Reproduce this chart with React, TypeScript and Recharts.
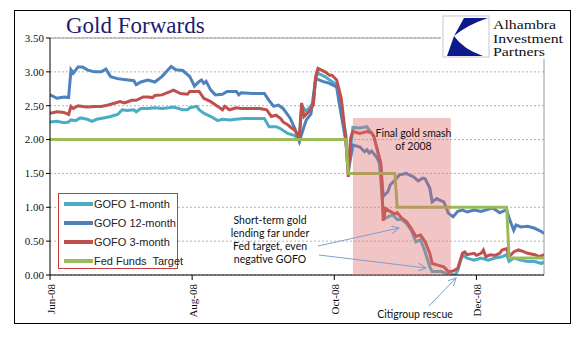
import React from 'react';
import { LineChart, Line, XAxis, YAxis, CartesianGrid, ReferenceArea, ReferenceLine } from 'recharts';

// ---------- data ----------
const xTickDates = ['06-02', '08-02', '10-02', '12-02'];
const xTickLabels = ['Jun-08', 'Aug-08', 'Oct-08', 'Dec-08'];
const yTicks = [0, 0.5, 1, 1.5, 2, 2.5, 3, 3.5];
const axisStart = '06-02';
const axisEnd = '12-31';
const smashStart = '10-10';
const smashEnd = '11-21';
const smashTop = 2.32;

const gofo1m: [string, number][] = [
  ['06-02', 2.26], ['06-05', 2.27], ['06-08', 2.25], ['06-10', 2.26], ['06-11', 2.29], ['06-13', 2.28],
  ['06-15', 2.32], ['06-18', 2.30], ['06-20', 2.27], ['06-22', 2.30], ['06-25', 2.32], ['06-28', 2.34],
  ['07-01', 2.37], ['07-03', 2.44], ['07-05', 2.43], ['07-08', 2.44], ['07-09', 2.41], ['07-11', 2.46],
  ['07-14', 2.46], ['07-17', 2.47], ['07-20', 2.46], ['07-23', 2.47], ['07-25', 2.48], ['07-29', 2.44],
  ['07-31', 2.44], ['08-01', 2.47], ['08-04', 2.49], ['08-05', 2.44], ['08-07', 2.39], ['08-10', 2.34],
  ['08-13', 2.28], ['08-15', 2.30], ['08-18', 2.29], ['08-21', 2.30], ['08-24', 2.31], ['09-02', 2.31],
  ['09-04', 2.19], ['09-07', 2.19], ['09-09', 2.16], ['09-12', 2.09], ['09-15', 2.06], ['09-17', 1.99],
  ['09-18', 2.50], ['09-20', 2.42], ['09-23', 2.54], ['09-24', 2.90], ['09-25', 2.98], ['09-28', 2.93],
  ['09-30', 2.88], ['10-03', 2.81], ['10-05', 2.46], ['10-07', 2.07], ['10-08', 1.58], ['10-10', 2.18],
  ['10-13', 2.17], ['10-16', 2.19], ['10-17', 2.14], ['10-18', 2.10], ['10-19', 2.05], ['10-21', 1.77],
  ['10-22', 1.38], ['10-23', 0.92], ['10-24', 0.84], ['10-27', 0.89], ['10-29', 0.82], ['10-31', 0.82],
  ['11-02', 0.76], ['11-04', 0.66], ['11-06', 0.49], ['11-08', 0.52], ['11-10', 0.34], ['11-12', 0.12],
  ['11-13', 0.05], ['11-17', 0.05], ['11-20', 0.01], ['11-23', 0.0], ['11-24', 0.07], ['11-26', 0.30],
  ['11-28', 0.25], ['12-01', 0.22], ['12-04', 0.25], ['12-07', 0.22], ['12-10', 0.25], ['12-13', 0.27],
  ['12-15', 0.30], ['12-16', 0.20], ['12-18', 0.25], ['12-21', 0.22], ['12-24', 0.20], ['12-27', 0.20],
  ['12-30', 0.17], ['12-31', 0.20],
];

const gofo12m: [string, number][] = [
  ['06-02', 2.66], ['06-05', 2.61], ['06-08', 2.63], ['06-10', 2.62], ['06-11', 3.03], ['06-12', 2.98],
  ['06-14', 3.07], ['06-16', 3.07], ['06-18', 3.03], ['06-21', 3.00], ['06-24', 3.00], ['06-26', 3.04],
  ['06-28', 2.93], ['07-01', 2.90], ['07-03', 2.89], ['07-08', 2.87], ['07-09', 2.81], ['07-11', 2.85],
  ['07-14', 2.88], ['07-17', 2.85], ['07-20', 2.93], ['07-24', 3.08], ['07-26', 3.03], ['07-29', 3.02],
  ['08-01', 2.93], ['08-03', 2.79], ['08-05', 2.86], ['08-06', 2.88], ['08-07', 2.83], ['08-08', 2.86],
  ['08-10', 2.73], ['08-12', 2.66], ['08-15', 2.67], ['08-17', 2.71], ['08-21', 2.71], ['08-22', 2.66],
  ['08-23', 2.69], ['08-28', 2.68], ['09-02', 2.68], ['09-04', 2.58], ['09-06', 2.49], ['09-08', 2.51],
  ['09-10', 2.46], ['09-13', 2.32], ['09-15', 2.17], ['09-17', 1.97], ['09-19', 2.19], ['09-20', 2.29],
  ['09-22', 2.38], ['09-24', 2.90], ['09-27', 2.86], ['09-30', 2.83], ['10-01', 2.81], ['10-03', 2.78],
  ['10-04', 2.56], ['10-05', 2.36], ['10-07', 1.97], ['10-08', 1.53], ['10-10', 1.92], ['10-13', 1.89],
  ['10-15', 1.82], ['10-16', 1.85], ['10-17', 1.80], ['10-18', 1.83], ['10-20', 1.75], ['10-22', 1.62],
  ['10-23', 1.16], ['10-25', 1.23], ['10-26', 1.33], ['10-28', 1.40], ['10-30', 1.48], ['11-02', 1.50],
  ['11-03', 1.48], ['11-05', 1.45], ['11-07', 1.39], ['11-09', 1.43], ['11-10', 1.42], ['11-12', 1.28],
  ['11-13', 1.08], ['11-15', 1.13], ['11-16', 1.11], ['11-18', 1.08], ['11-20', 0.91], ['11-22', 0.86],
  ['11-24', 0.94], ['11-26', 0.96], ['11-28', 0.93], ['12-01', 0.96], ['12-04', 0.94], ['12-07', 0.97],
  ['12-09', 0.99], ['12-12', 0.92], ['12-14', 0.95], ['12-15', 0.96], ['12-16', 0.84], ['12-18', 0.66],
  ['12-19', 0.74], ['12-21', 0.71], ['12-24', 0.72], ['12-27', 0.69], ['12-30', 0.64], ['12-31', 0.61],
];

const gofo3m: [string, number][] = [
  ['06-02', 2.39], ['06-05', 2.41], ['06-08', 2.40], ['06-10', 2.37], ['06-11', 2.49], ['06-12', 2.46],
  ['06-14', 2.50], ['06-16', 2.49], ['06-18', 2.48], ['06-21', 2.49], ['06-24', 2.49], ['06-27', 2.51],
  ['06-30', 2.54], ['07-02', 2.56], ['07-04', 2.54], ['07-07', 2.58], ['07-09', 2.58], ['07-12', 2.63],
  ['07-14', 2.63], ['07-16', 2.62], ['07-17', 2.65], ['07-20', 2.66], ['07-23', 2.70], ['07-25', 2.73],
  ['07-28', 2.68], ['07-31', 2.67], ['08-01', 2.71], ['08-05', 2.71], ['08-07', 2.61], ['08-10', 2.56],
  ['08-13', 2.49], ['08-15', 2.44], ['08-16', 2.49], ['08-18', 2.44], ['08-21', 2.47], ['08-23', 2.46],
  ['08-28', 2.46], ['08-31', 2.46], ['09-03', 2.44], ['09-05', 2.34], ['09-07', 2.36], ['09-09', 2.31],
  ['09-10', 2.26], ['09-12', 2.22], ['09-13', 2.19], ['09-15', 2.14], ['09-17', 2.04], ['09-18', 2.54],
  ['09-19', 2.34], ['09-21', 2.41], ['09-23', 2.51], ['09-24', 2.93], ['09-25', 3.05], ['09-28', 3.00],
  ['09-30', 2.95], ['10-01', 2.95], ['10-03', 2.88], ['10-05', 2.61], ['10-06', 2.31], ['10-07', 1.97],
  ['10-08', 1.45], ['10-09', 2.02], ['10-10', 2.12], ['10-13', 2.09], ['10-16', 2.12], ['10-18', 2.10],
  ['10-19', 2.04], ['10-22', 1.65], ['10-23', 0.80], ['10-24', 0.98], ['10-26', 0.94], ['10-28', 0.90],
  ['10-29', 0.92], ['10-31', 0.84], ['11-02', 0.79], ['11-04', 0.69], ['11-06', 0.57], ['11-08', 0.59],
  ['11-10', 0.49], ['11-12', 0.32], ['11-13', 0.17], ['11-15', 0.15], ['11-18', 0.12], ['11-20', 0.05],
  ['11-22', 0.06], ['11-24', 0.10], ['11-26', 0.32], ['11-27', 0.34], ['11-28', 0.30], ['12-01', 0.32],
  ['12-02', 0.29], ['12-04', 0.32], ['12-05', 0.37], ['12-06', 0.27], ['12-08', 0.30], ['12-10', 0.29],
  ['12-12', 0.32], ['12-13', 0.37], ['12-15', 0.39], ['12-16', 0.27], ['12-18', 0.34], ['12-20', 0.37],
  ['12-22', 0.35], ['12-24', 0.32], ['12-27', 0.30], ['12-29', 0.27], ['12-31', 0.30],
];

const fedFunds: [string, number][] = [
  ['06-02', 2.0], ['10-07', 2.0], ['10-08', 1.5], ['10-28', 1.5], ['10-29', 1.0],
  ['12-15', 1.0], ['12-16', 0.25], ['12-31', 0.25],
];

const seriesNames = ['GOFO 1-month', 'GOFO 12-month', 'GOFO 3-month', 'Fed Funds  Target'];
const seriesColors = ['#4bacc6', '#4f81bd', '#c0504d', '#9bbb59'];
const seriesData = [gofo1m, gofo12m, gofo3m, fedFunds];

const logoLines = ['Alhambra', 'Investment', 'Partners'];
const logoWidths = [63, 70, 52];

// ---------- helpers ----------
const DAY = 86400000;
const dayOf = (md: string) => {
  const [m, d] = md.split('-').map(Number);
  const [m0, d0] = axisStart.split('-').map(Number);
  return Math.round((Date.UTC(2008, m - 1, d) - Date.UTC(2008, m0 - 1, d0)) / DAY);
};
const toRows = (s: [string, number][]) => s.map(([d, v]) => ({ day: dayOf(d), value: v }));
const xTicks = xTickDates.map(dayOf);

const serif = '"Liberation Serif", "Times New Roman", serif';
const sans = 'Lato, "Open Sans", sans-serif';

const XTick = (props: any) => {
  const { x, y, payload } = props;
  const i = xTicks.indexOf(payload.value);
  const tx = x + 1;
  const ty = y + 2;
  return (
    <text x={tx} y={ty} transform={`rotate(-90, ${tx}, ${ty})`} textAnchor="end" dominantBaseline="central"
      fontFamily={serif} fontSize={11} fill="#111">
      {i >= 0 ? xTickLabels[i] : ''}
    </text>
  );
};

export default function App() {
  return (
    <div style={{ position: 'absolute', left: 0, top: 0, width: 577, height: 341, background: '#fff' }}>
      <div style={{ position: 'absolute', left: 14, top: 10, width: 555, height: 312, border: '1.5px solid #000' }} />
      <div style={{ position: 'absolute', left: 0, top: 0 }}>
        <LineChart width={577} height={341} margin={{ top: 38, right: 33, bottom: 16, left: 14 }}>
          <CartesianGrid vertical={false} stroke="#b4b4b4" strokeDasharray="2 2" />
          <XAxis type="number" dataKey="day" domain={[0, dayOf(axisEnd)]} ticks={xTicks} allowDataOverflow
            height={50} tickSize={5} tickMargin={2} axisLine={{ stroke: '#000' }} tickLine={{ stroke: '#000' }}
            tick={<XTick />} interval={0} />
          <YAxis type="number" domain={[0, 3.5]} ticks={yTicks} allowDataOverflow width={36} tickSize={4} tickMargin={2}
            axisLine={{ stroke: '#000' }} tickLine={{ stroke: '#000' }} tickFormatter={(v: number) => v.toFixed(2)}
            tick={{ fontFamily: serif, fontSize: 11, fill: '#111' }} interval={0} />
          <ReferenceLine y={3.5} stroke="#9a9a9a" strokeWidth={1} />
          <ReferenceLine x={dayOf(axisEnd)} stroke="#9a9a9a" strokeWidth={1} />
          {seriesData.map((s, i) => (
            <Line key={seriesNames[i]} data={toRows(s)} dataKey="value" name={seriesNames[i]} type="linear"
              stroke={seriesColors[i]} strokeWidth={3} dot={false} activeDot={false} isAnimationActive={false} />
          ))}
          <ReferenceArea x1={dayOf(smashStart)} x2={dayOf(smashEnd)} y1={0} y2={smashTop}
            fill="#dc6e6e" fillOpacity={0.4} stroke="none" zIndex={1000} />
        </LineChart>
      </div>

      {/* legend */}
      <div style={{ position: 'absolute', left: 58, top: 193, width: 118, height: 74, border: '1px solid #c83c3c', background: '#fff' }}>
        {seriesNames.map((n, i) => (
          <div key={n} style={{ position: 'absolute', left: 5, top: 3 + i * 19, height: 14, display: 'flex', alignItems: 'center' }}>
            <div style={{ width: 29, height: 4, background: seriesColors[i] }} />
            <span style={{ fontFamily: '"Liberation Sans", Arial, sans-serif', fontSize: 11, color: '#222', whiteSpace: 'pre', marginLeft: 1 }}>{n}</span>
          </div>
        ))}
      </div>

      {/* logo block */}
      <div style={{ position: 'absolute', left: 441, top: 11, width: 128, height: 48, background: '#fff' }} />
      <svg width={577} height={341} style={{ position: 'absolute', left: 0, top: 0, pointerEvents: 'none' }}>
        <defs>
          <marker id="ah" markerWidth="9" markerHeight="8" refX="8" refY="4" orient="auto" markerUnits="userSpaceOnUse">
            <path d="M0,0 L8,4 L0,8" fill="none" stroke="#7f9fcf" strokeWidth="1" />
          </marker>
        </defs>
        <text x={66} y={33} fontFamily={serif} fontSize={23} fill="#1b1b72">Gold Forwards</text>

        <g transform="translate(443,16)">
          <rect x={0} y={0} width={46} height={41} fill="#fff" stroke="#c8c8c8" strokeWidth={1} />
          <path d="M21,2 L45,2 Q24,9 11,20 Z" fill="#0c1a8c" />
          <path d="M11,20 Q20,33 40,40 L4,40 Z" fill="#0c1a8c" />
        </g>
        {logoLines.map((t, i) => (
          <text key={t} x={493} y={29 + i * 13.6} fontFamily={serif} fontSize={12.2} fill="#111"
            textLength={logoWidths[i]} lengthAdjust="spacingAndGlyphs">{t}</text>
        ))}

        <text fontFamily={sans} fontSize={10.5} fill="#111" textAnchor="middle">
          <tspan x={413.5} y={137}>Final gold smash</tspan>
          <tspan x={413.5} y={150}>of 2008</tspan>
        </text>
        <text fontFamily={sans} fontSize={10.5} fill="#111" textAnchor="middle">
          <tspan x={270} y={224}>Short-term gold</tspan>
          <tspan x={270} y={237}>lending far under</tspan>
          <tspan x={270} y={250}>Fed target, even</tspan>
          <tspan x={270} y={263}>negative GOFO</tspan>
        </text>
        <text x={415} y={318} fontFamily={sans} fontSize={10.5} fill="#111" textAnchor="middle">Citigroup rescue</text>

        <line x1={318} y1={246} x2={399} y2={228} stroke="#7f9fcf" strokeWidth={1} markerEnd="url(#ah)" />
        <line x1={319} y1={255} x2={426} y2={268} stroke="#7f9fcf" strokeWidth={1} markerEnd="url(#ah)" />
        <line x1={429} y1={306} x2={456} y2={278} stroke="#7f9fcf" strokeWidth={1} markerEnd="url(#ah)" />
      </svg>
    </div>
  );
}
